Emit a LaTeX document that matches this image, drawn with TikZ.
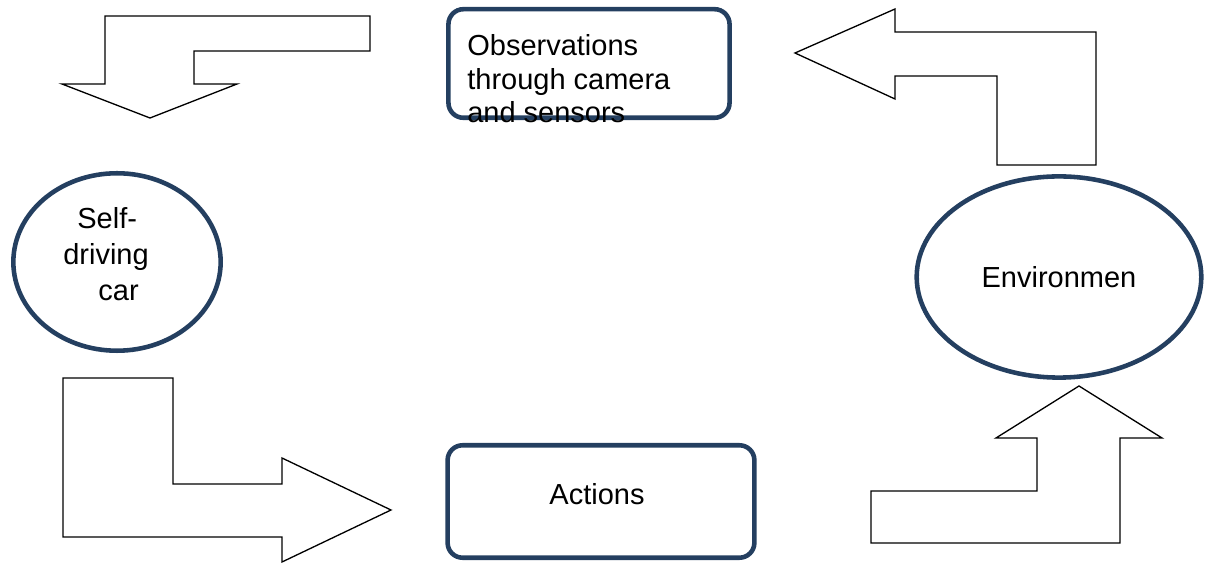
\documentclass[tikz,border=0pt]{standalone}
\usepackage{fontspec}
\setmainfont{Liberation Sans}
\usepackage{tikz}
\usetikzlibrary{shapes.geometric}
\definecolor{darknavy}{HTML}{243F60}

\begin{document}
\begin{tikzpicture}[x=0.02cm,y=-0.02cm,
    bluebox/.style={draw=darknavy,line width=2.6pt,rounded corners=8.5pt},
    blueoval/.style={ellipse,draw=darknavy,line width=2.6pt},
    blockarrow/.style={draw=black,line width=0.75pt,line join=miter},
    lbl/.style={font=\fontsize{16.5}{19}\selectfont,inner sep=0pt}]
  \useasboundingbox (0,0) rectangle (1205,563);
  % bent block arrows
  \draw[blockarrow] (105,16) -- (370,16) -- (370,51) -- (194,51) -- (194,84) -- (237,84) -- (150,118) -- (62,84) -- (105,84) -- cycle;
  \draw[blockarrow] (795,53) -- (895,9) -- (895,32) -- (1096,32) -- (1096,165) -- (997,165) -- (997,76) -- (895,76) -- (895,99) -- cycle;
  \draw[blockarrow] (63,378) -- (173,378) -- (173,484) -- (282,484) -- (282,458) -- (391,510) -- (282,562) -- (282,537) -- (63,537) -- cycle;
  \draw[blockarrow] (1079,386) -- (1162,438) -- (1120,438) -- (1120,543) -- (871,543) -- (871,491) -- (1037,491) -- (1037,438) -- (996,438) -- cycle;
  % boxes and ovals
  \node[bluebox,minimum width=160pt,minimum height=61.8pt] (obs) at (589,63.5) {};
  \node[lbl,align=left,anchor=north west] (obstxt) at (467,34.5) {Observations\\through camera\\and sensors};
  \node[blueoval,minimum width=118pt,minimum height=101pt] (car) at (117,262) {};
  \node[lbl,align=left,anchor=north west,font=\fontsize{16.5}{20.4}\selectfont] (cartxt) at (63,207.5) {\hspace{8pt}Self-\\driving\\\hspace{20pt}car};
  \node[bluebox,minimum width=174.6pt,minimum height=64pt] (act) at (601,501.5) {};
  \node[lbl] (acttxt) at (597,494) {Actions};
  \node[blueoval,lbl,minimum width=162pt,minimum height=114.5pt] (env) at (1059,277) {Environmen};
\end{tikzpicture}
\end{document}
